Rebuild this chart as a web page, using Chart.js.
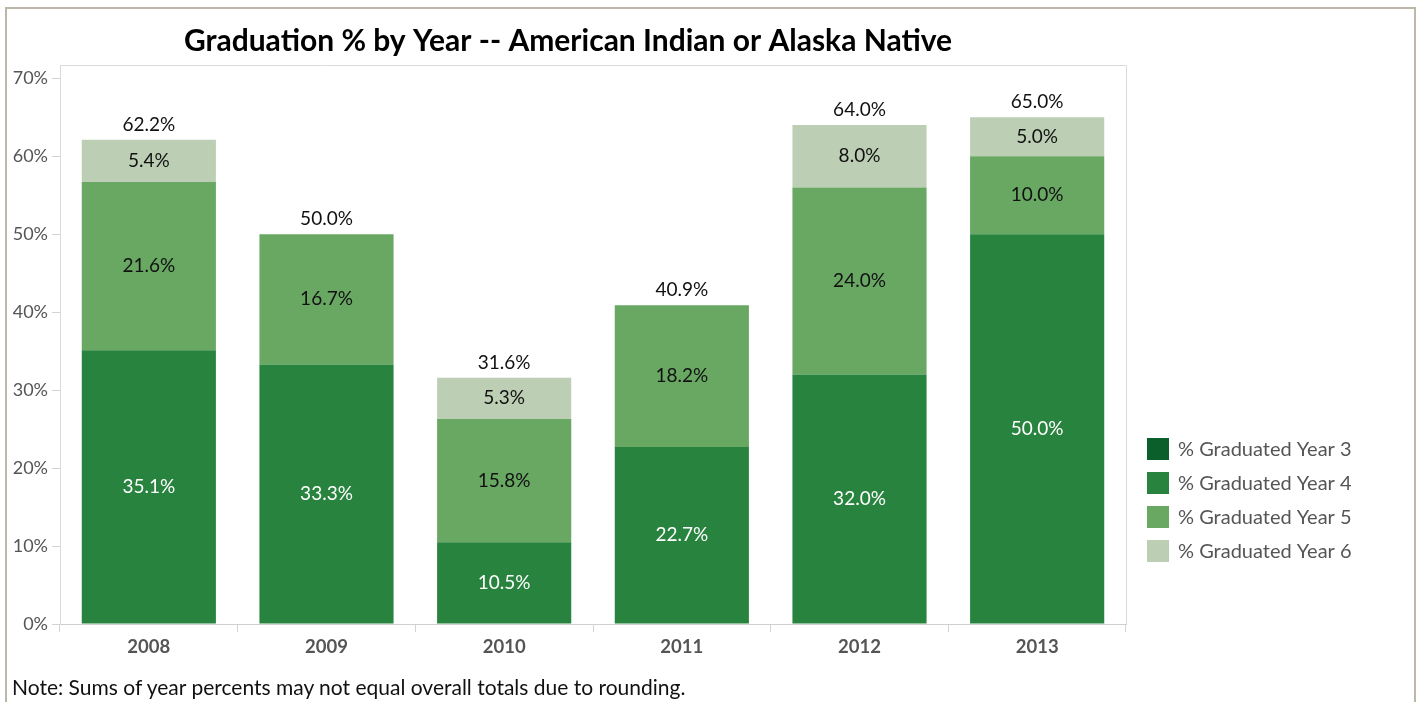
<!DOCTYPE html>
<html>
<head>
<meta charset="utf-8">
<script src="https://cdn.jsdelivr.net/npm/chart.js@4"></script>
<style>
  html, body { margin: 0; padding: 0; background: #fff; overflow: hidden; }
  #wrap { position: relative; width: 1418px; height: 702px; }
  #frame { position: absolute; left: 5px; top: 7px; width: 1411px; height: 760px;
           border: 2px solid #bcb7a8; box-sizing: border-box; pointer-events: none; }
  #note { position: absolute; left: 12px; top: 674px; font: 21px Lato, sans-serif; color: #111; }
  canvas { position: absolute; left: 0; top: 0; }
</style>
</head>
<body>
<div id="wrap">
  <canvas id="gradChart" width="1418" height="702"></canvas>
  <div id="frame"></div>
  <div id="note">Note: Sums of year percents may not equal overall totals due to rounding.</div>
</div>
<script>
// データ
const years = ['2008', '2009', '2010', '2011', '2012', '2013'];
const year3 = [0, 0, 0, 0, 0, 0];
const year4 = [35.1, 33.3, 10.5, 22.7, 32.0, 50.0];
const year5 = [21.6, 16.7, 15.8, 18.2, 24.0, 10.0];
const year6 = [5.4, 0, 5.3, 0, 8.0, 5.0];
const totals = [62.2, 50.0, 31.6, 40.9, 64.0, 65.0];
const yTicks = [0, 10, 20, 30, 40, 50, 60, 70];
const seriesNames = ['% Graduated Year 3', '% Graduated Year 4', '% Graduated Year 5', '% Graduated Year 6'];
const seriesColors = ['#0b5f2b', '#27833e', '#68a862', '#bccfb4'];
const labelColors = ['#ffffff', '#ffffff', '#111111', '#111111'];

const FONT = 'Lato, sans-serif';
const title = 'Graduation % by Year -- American Indian or Alaska Native';

// 枠線・ラベル・凡例
const decorPlugin = {
    id: 'decor',
    beforeDatasetsDraw(chart) {
        const { ctx, chartArea: a } = chart;
        ctx.save();
        ctx.strokeStyle = '#dadada';
        ctx.lineWidth = 1;
        ctx.beginPath();
        ctx.moveTo(a.left, a.top + 0.5);
        ctx.lineTo(a.right + 0.5, a.top + 0.5);
        ctx.lineTo(a.right + 0.5, a.bottom);
        ctx.stroke();
        ctx.restore();
    },
    afterDraw(chart) {
        const { ctx } = chart;
        ctx.save();
        // 値ラベル
        ctx.textAlign = 'center';
        ctx.textBaseline = 'middle';
        ctx.font = '19px ' + FONT;
        chart.data.datasets.forEach((ds, di) => {
            const meta = chart.getDatasetMeta(di);
            meta.data.forEach((el, i) => {
                if (!ds.data[i]) return;
                ctx.fillStyle = labelColors[di];
                ctx.fillText(ds.data[i].toFixed(1) + '%', el.x, (el.y + el.base) / 2);
            });
        });
        // 合計
        const lastMeta = chart.getDatasetMeta(chart.data.datasets.length - 1);
        ctx.fillStyle = '#111111';
        lastMeta.data.forEach((el, i) => {
            ctx.fillText(totals[i].toFixed(1) + '%', el.x, el.y - 15);
        });
        // タイトル
        ctx.font = 'bold 30px ' + FONT;
        ctx.fillStyle = '#000';
        ctx.fillText(title, 568, 41);
        // 凡例
        ctx.textAlign = 'left';
        ctx.font = '20px ' + FONT;
        chart.data.datasets.forEach((ds, di) => {
            const y = 449 + di * 34;
            ctx.fillStyle = ds.backgroundColor;
            ctx.fillRect(1147, y - 11, 22, 22);
            ctx.fillStyle = '#555';
            ctx.fillText(ds.label, 1178, y + 1);
        });
        ctx.restore();
    }
};

const datasets = [year3, year4, year5, year6].map((d, i) => ({
    label: seriesNames[i],
    data: d,
    backgroundColor: seriesColors[i],
    borderWidth: 0,
    barPercentage: 0.755,
    categoryPercentage: 1.0
}));

new Chart(document.getElementById('gradChart'), {
    type: 'bar',
    data: { labels: years, datasets: datasets },
    plugins: [decorPlugin],
    options: {
        responsive: false,
        animation: false,
        layout: { padding: { left: 0, top: 65, right: 292, bottom: 38 } },
        plugins: { legend: { display: false }, tooltip: { enabled: false } },
        scales: {
            x: {
                stacked: true,
                afterFit: s => { s.height = 40; },
                grid: { drawOnChartArea: false, offset: true, tickLength: 8, color: '#d3d3d3' },
                border: { display: true, color: '#cfcfcf', dash: [3, 2] },
                ticks: { color: '#555', font: { family: FONT, size: 18.5, weight: 'bold' }, padding: 4 }
            },
            y: {
                stacked: true,
                min: 0,
                max: 71.7,
                afterFit: s => { s.width = 60; },
                afterBuildTicks: axis => { axis.ticks = yTicks.map(v => ({ value: v })); },
                grid: { drawOnChartArea: false, tickLength: 8, color: '#d3d3d3' },
                border: { display: true, color: '#dadada' },
                ticks: { color: '#555', font: { family: FONT, size: 18 }, padding: 4,
                         callback: v => v + '%' }
            }
        }
    }
});
</script>
</body>
</html>
